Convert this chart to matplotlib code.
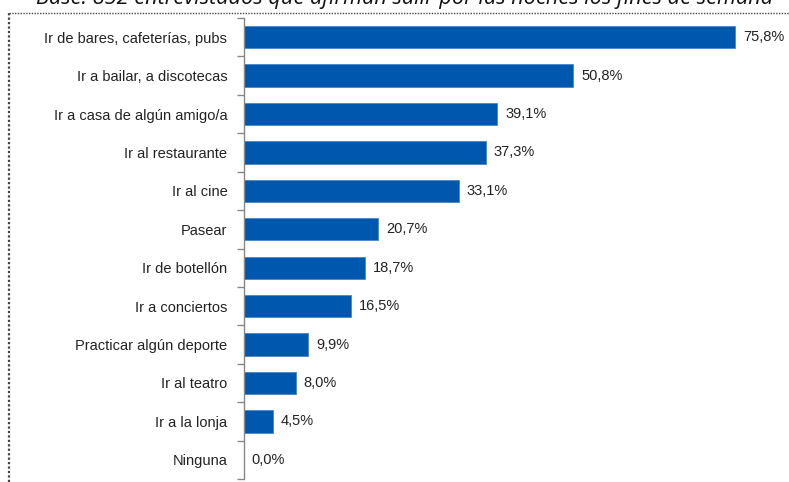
import matplotlib.pyplot as plt
from matplotlib.lines import Line2D

categories = ['Ir de bares, cafeterías, pubs', 'Ir a bailar, a discotecas',
              'Ir a casa de algún amigo/a', 'Ir al restaurante', 'Ir al cine',
              'Pasear', 'Ir de botellón', 'Ir a conciertos',
              'Practicar algún deporte', 'Ir al teatro', 'Ir a la lonja', 'Ninguna']
values = [75.8, 50.8, 39.1, 37.3, 33.1, 20.7, 18.7, 16.5, 9.9, 8.0, 4.5, 0.0]
title = 'Base: 852 entrevistados que afirman salir por las noches los fines de semana'

W, H = 789, 482
fig = plt.figure(figsize=(W / 100, H / 100), dpi=100)
ax = fig.add_axes([244 / W, 3 / H, (W - 244) / W, (H - 21) / H])

n = len(categories)
ypos = list(range(n))
ax.barh(ypos, values, height=0.58, color='#0057AE', edgecolor='#4a86c8', linewidth=0.6)
for y, v in zip(ypos, values):
    ax.text(v + 1.2, y, f'{v:.1f}%'.replace('.', ','), va='center', ha='left',
            fontsize=10.5, family='Liberation Sans', color='#222222')

ax.set_xlim(0, 84.1)
ax.set_ylim(n - 0.5, -0.5)
ax.set_yticks([i - 0.5 for i in range(n + 1)], minor=False)
ax.set_yticklabels([])
ax.set_yticks(ypos, minor=True)
ax.set_yticklabels(categories, minor=True, fontsize=10.5, family='Liberation Sans', color='#222222')
ax.tick_params(axis='y', which='major', length=5, color='#888888', width=1)
ax.tick_params(axis='y', which='minor', length=0, pad=12)
ax.set_xticks([])
for s in ['top', 'right', 'bottom']:
    ax.spines[s].set_visible(False)
ax.spines['left'].set_color('#888888')
ax.spines['left'].set_linewidth(1)

# dotted frame along top and left
fig.add_artist(Line2D([9 / W, 1], [1 - 13 / H, 1 - 13 / H], color='#444444',
                      linestyle=(0, (1, 1)), linewidth=1))
fig.add_artist(Line2D([9 / W, 9 / W], [0, 1 - 13 / H], color='#444444',
                      linestyle=(0, (1, 1)), linewidth=1.6))

fig.text(405 / W, 1 - 4 / H, title, ha='center', va='baseline', fontsize=15.7,
         style='italic', family='Open Sans', color='#111111')

fig.savefig('out.png', dpi=100)
